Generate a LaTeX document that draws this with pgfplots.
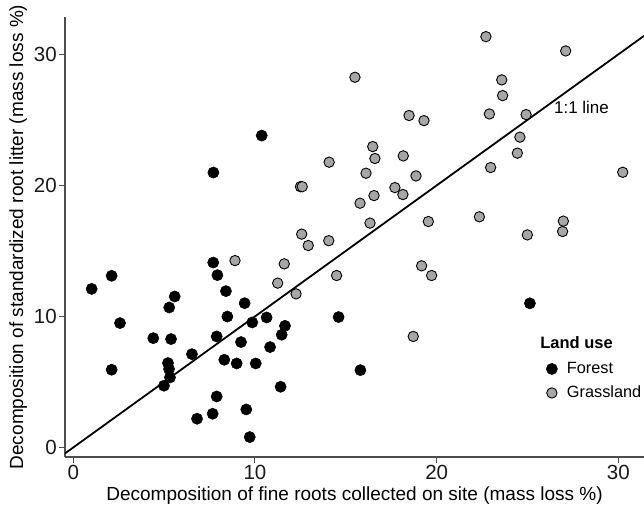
\documentclass[border=0pt]{standalone}
\usepackage{fontspec}
\setmainfont{Liberation Sans}
\usepackage{pgfplots}
\pgfplotsset{compat=1.18}
\definecolor{gfill}{HTML}{A6A6A6}
\definecolor{axcol}{HTML}{4D4D4D}
\begin{document}
\begin{tikzpicture}
\begin{axis}[
  name=ax,
  scale only axis,
  width=579pt, height=440pt,
  xmin=-0.457, xmax=31.41,
  ymin=-0.73, ymax=32.85,
  axis x line*=bottom, axis y line*=left,
  axis line style={axcol, line width=1.1pt},
  xtick={0,10,20,30}, ytick={0,10,20,30},
  minor tick num=0,
  tick align=outside,
  major tick length=5.5pt,
  tick style={axcol, line width=1pt},
  /pgf/number format/assume math mode=true,
  ticklabel style={font=\fontsize{20.5}{24}\selectfont, text=black!90, inner sep=2.5pt},
  xlabel={Decomposition of fine roots collected on site (mass loss \%)},
  ylabel={Decomposition of standardized root litter (mass loss \%)},
  label style={font=\fontsize{19}{22}\selectfont, inner sep=0pt, outer sep=0pt},
  xlabel style={at={(axis description cs:0.5,0)}, anchor=north, yshift=-29.5pt},
  ylabel style={at={(axis description cs:-0.0656,0.5)}, anchor=south},
  legend style={draw=none, fill=none, at={(axis cs:26.02,6.73)}, anchor=north west,
    font=\fontsize{16.3}{19}\selectfont, row sep=5pt, column sep=7.5pt, inner sep=0pt,
    nodes={inner sep=2pt, text height=12pt, text depth=3pt}},
  legend cell align=left,
  legend image code/.code={\draw[#1] plot coordinates {(0pt,0pt)};},
]
\addplot[black, line width=1.8pt, forget plot] coordinates {(-0.457,-0.457) (31.41,31.41)};
\addplot[only marks, mark=*, mark size=5.6pt, mark options={fill=black, draw=black, line width=0.5pt}] table {
x y
1.01 12.1
2.11 13.1
2.57 9.49
2.11 5.93
4.40 8.34
5.38 8.27
5.28 10.68
5.58 11.52
5.21 6.44
5.27 5.98
5.32 5.34
4.99 4.71
6.53 7.12
7.70 14.11
7.93 13.15
8.40 11.93
8.48 9.99
7.89 8.47
9.43 11.01
9.85 9.54
10.64 9.92
9.23 8.04
8.31 6.69
8.99 6.41
10.04 6.41
10.83 7.66
11.47 8.60
11.65 9.28
11.41 4.63
7.89 3.89
6.81 2.19
7.67 2.57
9.52 2.90
9.71 0.79
7.71 20.98
10.37 23.80
14.60 9.95
15.80 5.90
25.13 11.00
};
\addlegendentry{Forest}
\addplot[only marks, mark=*, mark size=5.2pt, mark options={fill=gfill, draw=black, line width=0.9pt}] table {
x y
8.90 14.26
11.61 14.01
11.25 12.54
12.26 11.72
12.50 19.90
12.60 19.90
12.57 16.28
12.93 15.41
14.08 21.77
14.06 15.78
15.50 28.25
16.48 22.96
16.60 22.05
16.11 20.93
18.16 22.25
18.86 20.72
17.70 19.83
18.14 19.30
16.55 19.22
15.78 18.64
16.33 17.12
19.54 17.24
22.35 17.60
24.99 16.22
26.97 17.27
26.93 16.48
30.24 21.00
22.97 21.36
24.44 22.46
24.58 23.68
24.92 25.40
22.90 25.45
23.63 26.85
23.58 28.05
22.71 31.35
27.10 30.26
18.48 25.33
19.30 24.94
14.49 13.12
19.17 13.86
19.72 13.12
18.71 8.47
};
\addlegendentry{Grassland}
\node[anchor=west, font=\fontsize{17}{20}\selectfont, inner sep=0pt] at (axis cs:26.45,25.95) {1:1 line};
\node[anchor=west, font=\fontsize{16.5}{20}\bfseries, inner sep=0pt] at (axis cs:25.69,8.03) {Land use};
\end{axis}
\pgfresetboundingbox
\path[use as bounding box] ([xshift=-65pt,yshift=-49pt]ax.south west) rectangle ([yshift=17pt]ax.north east);
\end{tikzpicture}
\end{document}
